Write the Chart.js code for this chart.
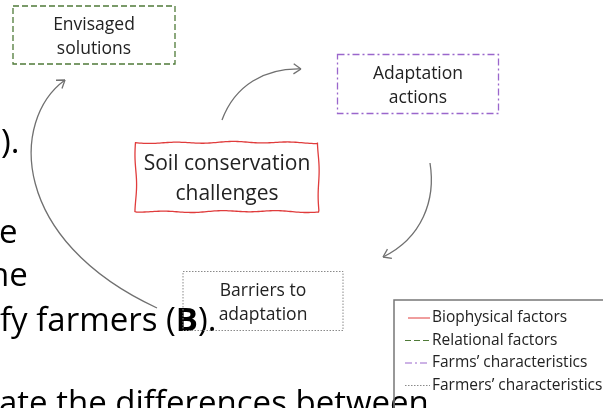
<!DOCTYPE html>
<html>
<head>
    <title>Soil conservation diagram</title>
    <meta charset="utf-8" />
    <script src="https://cdn.jsdelivr.net/npm/chart.js"></script>
    <style>
        body { margin: 0; background: #fff; font-family: "Open Sans", sans-serif; }
        #chartContainer { width: 603px; height: 408px; position: relative; }
    </style>
</head>
<body>
    <div id="chartContainer">
        <canvas id="myChart"></canvas>
    </div>
    <script>
        // diagram nodes (centres in a 603 x 408 data space)
        var nodeLabels = [['Envisaged', 'solutions'], ['Adaptation', 'actions'], ['Soil conservation', 'challenges'], ['Barriers to', 'adaptation']];
        var nodeX = [94, 418, 227, 263];
        var nodeY = [35, 84, 177, 301];
        var nodeKind = [1, 2, 0, 3]; // index into legend categories

        // arrows: start, two control points, end
        var arrowX = [[222, 235, 265, 301], [430, 436, 422, 383], [157, 10, 10, 65]];
        var arrowY = [[120, 85, 68, 69], [163, 200, 238, 257], [308, 240, 120, 80]];

        // legend categories
        var legendLabels = ['Biophysical factors', 'Relational factors', 'Farms\u2019 characteristics', 'Farmers\u2019 characteristics'];

        // slide text that sits behind the figure
        var slideText = [').', 'e', 'he', 'fy farmers (|B|).', 'ate the differences between'];
        var slideX = [1, -1, -11, 0, -1];
        var slideY = [153, 243, 286, 331, 414];

        var boxW = [162, 161, 183, 160];
        var boxH = [58, 59, 69, 59];
        var kindColor = ['#e03c3c', '#4f7a38', '#9a66cc', '#8a8a8a'];
        var kindDash = [[], [6, 3], [7, 3, 2, 3], [1.5, 1.5]];
        var fontSize = [17.5, 17.5, 21, 17.5];
        var FONT = '"Open Sans"';

        var diagram = {
            id: 'diagram',
            afterDatasetsDraw: function (chart) {
                var ctx = chart.ctx;
                var xs = chart.scales.x, ys = chart.scales.y;
                var px = function (v) { return xs.getPixelForValue(v); };
                var py = function (v) { return ys.getPixelForValue(v); };
                ctx.save();

                // background slide text
                ctx.fillStyle = '#000';
                ctx.textBaseline = 'alphabetic';
                ctx.textAlign = 'left';
                slideText.forEach(function (t, i) {
                    var x = px(slideX[i]);
                    t.split('|').forEach(function (part, k) {
                        ctx.font = (k === 1 ? 'bold ' : '') + '33px ' + FONT;
                        ctx.fillText(part, x, py(slideY[i]));
                        x += ctx.measureText(part).width;
                    });
                });

                // arrows
                ctx.strokeStyle = '#707070';
                ctx.lineWidth = 1.3;
                ctx.setLineDash([]);
                arrowX.forEach(function (ax, i) {
                    var ay = arrowY[i];
                    ctx.beginPath();
                    ctx.moveTo(px(ax[0]), py(ay[0]));
                    ctx.bezierCurveTo(px(ax[1]), py(ay[1]), px(ax[2]), py(ay[2]), px(ax[3]), py(ay[3]));
                    ctx.stroke();
                    var ang = Math.atan2(py(ay[3]) - py(ay[2]), px(ax[3]) - px(ax[2]));
                    ctx.beginPath();
                    [-0.6, 0.6].forEach(function (d) {
                        ctx.moveTo(px(ax[3]), py(ay[3]));
                        ctx.lineTo(px(ax[3]) - 9 * Math.cos(ang + d), py(ay[3]) - 9 * Math.sin(ang + d));
                    });
                    ctx.stroke();
                });

                // node boxes
                nodeLabels.forEach(function (lines, i) {
                    var k = nodeKind[i];
                    var x0 = px(nodeX[i]) - boxW[i] / 2, y0 = py(nodeY[i]) - boxH[i] / 2;
                    ctx.strokeStyle = kindColor[k];
                    ctx.lineWidth = k === 3 ? 1 : 1.3;
                    ctx.setLineDash(kindDash[k]);
                    if (k === 0) {
                        // hand-drawn wavy outline
                        var pts = [[x0, y0], [x0 + boxW[i], y0], [x0 + boxW[i], y0 + boxH[i]], [x0, y0 + boxH[i]], [x0, y0]];
                        ctx.beginPath();
                        var s = 0;
                        for (var e = 0; e < 4; e++) {
                            var a = pts[e], b = pts[e + 1];
                            var len = Math.hypot(b[0] - a[0], b[1] - a[1]);
                            var nx = -(b[1] - a[1]) / len, ny = (b[0] - a[0]) / len;
                            for (var d = 0; d <= len; d += 2) {
                                s += 2;
                                var w = 0.7 * Math.sin(s / 9) + 0.4 * Math.sin(s / 23);
                                var qx = a[0] + (b[0] - a[0]) * d / len + nx * w;
                                var qy = a[1] + (b[1] - a[1]) * d / len + ny * w;
                                if (e === 0 && d === 0) ctx.moveTo(qx, qy); else ctx.lineTo(qx, qy);
                            }
                        }
                        ctx.closePath();
                        ctx.stroke();
                    } else {
                        ctx.strokeRect(x0, y0, boxW[i], boxH[i]);
                    }
                    ctx.setLineDash([]);
                    ctx.fillStyle = '#222';
                    ctx.textAlign = 'center';
                    ctx.textBaseline = 'middle';
                    ctx.font = fontSize[i] + 'px ' + FONT;
                    var lh = fontSize[i] * 1.4;
                    lines.forEach(function (t, j) {
                        ctx.fillText(t, px(nodeX[i]), py(nodeY[i]) + 2 + (j - (lines.length - 1) / 2) * lh);
                    });
                });

                // legend box
                ctx.strokeStyle = '#777';
                ctx.lineWidth = 1.5;
                ctx.setLineDash([]);
                ctx.strokeRect(px(394), py(300), 300, 200);
                ctx.font = '15.5px ' + FONT;
                ctx.textAlign = 'left';
                ctx.textBaseline = 'middle';
                legendLabels.forEach(function (t, k) {
                    var y = py(318 + k * 22.5);
                    ctx.strokeStyle = kindColor[k];
                    ctx.lineWidth = 1;
                    ctx.setLineDash(kindDash[k]);
                    ctx.beginPath();
                    ctx.moveTo(px(k === 0 ? 408 : 405), y);
                    ctx.lineTo(px(430), y);
                    ctx.stroke();
                    ctx.setLineDash([]);
                    ctx.fillStyle = '#222';
                    ctx.fillText(t, px(432), y);
                });
                ctx.restore();
            }
        };

        var ctx = document.getElementById('myChart').getContext('2d');
        var myChart = new Chart(ctx, {
            type: 'scatter',
            data: {
                datasets: [{
                    label: 'Nodes',
                    data: nodeX.map(function (x, i) { return { x: x, y: nodeY[i] }; }),
                    pointRadius: 0
                }]
            },
            options: {
                responsive: true,
                maintainAspectRatio: false,
                animation: false,
                layout: { padding: 0 },
                plugins: { legend: { display: false }, tooltip: { enabled: false } },
                scales: {
                    x: { type: 'linear', min: 0, max: 603, display: false },
                    y: { type: 'linear', min: 0, max: 408, reverse: true, display: false }
                }
            },
            plugins: [diagram]
        });
    </script>
</body>
</html>
